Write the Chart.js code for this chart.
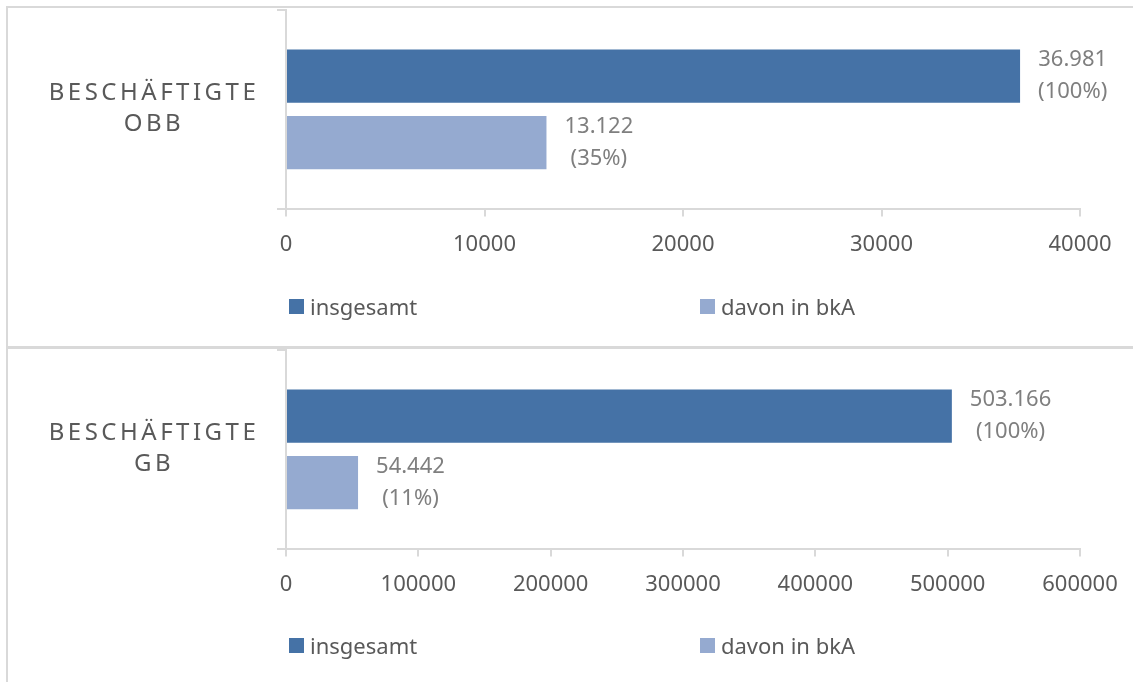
<!DOCTYPE html>
<html>
<head>
<meta charset="utf-8">
<script src="https://cdn.jsdelivr.net/npm/chart.js@4.4.0/dist/chart.umd.min.js"></script>
<style>
  html, body { margin: 0; padding: 0; background: #fff; }
  body { width: 1133px; height: 682px; position: relative; overflow: hidden; font-family: "Noto Sans", sans-serif; }
  .panel { position: absolute; border: 2px solid #d9d9d9; box-sizing: border-box; }
  #p1 { left: 6px; top: 6px; width: 1140px; height: 343px; }
  #p2 { left: 6px; top: 346px; width: 1140px; height: 400px; }
  .chartbox { position: absolute; left: 0; width: 1133px; }
  #c1box { top: 0; height: 347px; }
  #c2box { top: 347px; height: 335px; }
  .item { position: absolute; display: flex; align-items: center; white-space: nowrap; font-size: 22px; color: #595959; height: 30px; }
  .swatch { width: 15px; height: 15px; margin-right: 6px; }
</style>
</head>
<body>
<div class="panel" id="p1"></div>
<div class="panel" id="p2"></div>
<div class="chartbox" id="c1box"><canvas id="obbChart"></canvas></div>
<div class="chartbox" id="c2box"><canvas id="gbChart"></canvas></div>
<div id="legend1"></div>
<div id="legend2"></div>

<script>
  /* ================= DATA ================= */

  const seriesNames = ['insgesamt', 'davon in bkA'];
  const seriesColors = ['#4572a6', '#95aad0'];

  const obbCategory = ['BESCHÄFTIGTE', 'OBB'];
  const obbValues = [36981, 13122];
  const obbPercents = [100, 35];
  const obbAxis = { max: 40000, step: 10000 };

  const gbCategory = ['BESCHÄFTIGTE', 'GB'];
  const gbValues = [503166, 54442];
  const gbPercents = [100, 11];
  const gbAxis = { max: 600000, step: 100000 };

  /* ================= HELPERS ================= */

  function formatDE(n) {
    return String(n).replace(/\B(?=(\d{3})+(?!\d))/g, '.');
  }

  // value + percent written right of each bar
  const valueLabels = {
    id: 'valueLabels',
    afterDatasetsDraw(chart, args, opts) {
      const ctx = chart.ctx;
      ctx.save();
      ctx.font = '22px "Noto Sans"';
      ctx.fillStyle = '#7f7f7f';
      ctx.textAlign = 'center';
      ctx.textBaseline = 'middle';
      chart.data.datasets.forEach((ds, i) => {
        chart.getDatasetMeta(i).data.forEach((bar, j) => {
          const lines = [formatDE(ds.data[j]), '(' + opts.percents[i] + '%)'];
          const w = Math.max(...lines.map(l => ctx.measureText(l).width));
          const cx = bar.x + 18 + w / 2;
          ctx.fillText(lines[0], cx, bar.y - 16);
          ctx.fillText(lines[1], cx, bar.y + 16);
        });
      });
      ctx.restore();
    }
  };

  // spaced-out category title left of the axis
  const categoryLabel = {
    id: 'categoryLabel',
    afterDraw(chart) {
      const ctx = chart.ctx;
      const y = chart.scales.y.getPixelForValue(0);
      const lines = chart.data.labels[0];
      ctx.save();
      ctx.font = '24px "Noto Sans"';
      ctx.fillStyle = '#595959';
      ctx.textAlign = 'center';
      ctx.textBaseline = 'middle';
      ctx.letterSpacing = '3.5px';
      ctx.fillText(lines[0], 154, y - 16);
      ctx.fillText(lines[1], 154, y + 15);
      ctx.restore();
    }
  };

  function buildLegend(el, top) {
    seriesNames.forEach((name, i) => {
      const item = document.createElement('div');
      item.className = 'item';
      item.style.left = (i === 0 ? 289 : 700) + 'px';
      item.style.top = top + 'px';
      item.innerHTML = '<span class="swatch" style="background:' + seriesColors[i] + '"></span>' + name;
      el.appendChild(item);
    });
  }

  function makeChart(canvasId, category, values, percents, axis, padTop, padBottom) {
    return new Chart(document.getElementById(canvasId), {
      type: 'bar',
      data: {
        labels: [category],
        datasets: seriesNames.map((name, i) => ({
          label: name,
          data: [values[i]],
          backgroundColor: seriesColors[i],
          categoryPercentage: 0.67,
          barPercentage: 0.8
        }))
      },
      options: {
        indexAxis: 'y',
        responsive: true,
        maintainAspectRatio: false,
        animation: false,
        layout: { padding: { top: padTop, left: 277, right: 53, bottom: padBottom } },
        plugins: {
          legend: { display: false },
          tooltip: { enabled: false },
          valueLabels: { percents }
        },
        scales: {
          x: {
            min: 0,
            max: axis.max,
            ticks: {
              stepSize: axis.step,
              color: '#595959',
              font: { family: 'Noto Sans', size: 22 },
              padding: 15,
              callback: v => String(v)
            },
            grid: { drawOnChartArea: false, color: '#d9d9d9', tickLength: 8, lineWidth: 2 },
            border: { color: '#d9d9d9', width: 2 }
          },
          y: {
            ticks: { display: false },
            grid: { offset: true, drawOnChartArea: false, color: '#d9d9d9', tickLength: 9, lineWidth: 2 },
            border: { color: '#d9d9d9', width: 2 }
          }
        }
      },
      plugins: [valueLabels, categoryLabel]
    });
  }

  /* ================= INIT ================= */

  makeChart('obbChart', obbCategory, obbValues, obbPercents, obbAxis, 10, 74);
  makeChart('gbChart', gbCategory, gbValues, gbPercents, gbAxis, 3, 69);
  buildLegend(document.getElementById('legend1'), 291);
  buildLegend(document.getElementById('legend2'), 630);
</script>
</body>
</html>
